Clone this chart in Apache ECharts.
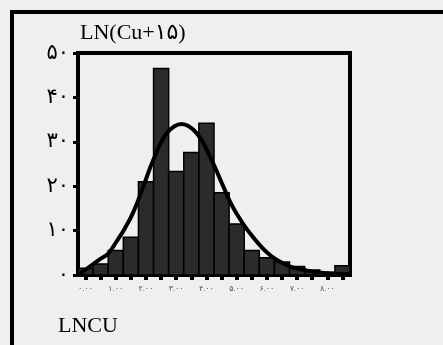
<!DOCTYPE html>
<html>
<head>
<meta charset="utf-8">
<script src="https://cdn.jsdelivr.net/npm/echarts@6/dist/echarts.min.js"></script>
<style>
  html, body { margin: 0; padding: 0; background: #efefef; }
  #chart { width: 443px; height: 345px; }
</style>
</head>
<body>
<div id="chart"></div>
<script>
// bin centres (LNCU) and counts
var binCenters = [0, 0.5, 1, 1.5, 2, 2.5, 3, 3.5, 4, 4.5, 5, 5.5, 6, 6.5, 7, 7.5, 8, 8.5];
var counts = [1.5, 2.5, 5.5, 8.5, 21, 46.5, 23.3, 27.6, 34.2, 18.5, 11.5, 5.5, 3.9, 2.9, 1.9, 1.1, 0.6, 2.1];

// normal curve
var curveX = [-0.2, -0.02, 0.48, 0.75, 1.03, 1.3, 1.57, 1.91, 2.24, 2.69, 3.18, 3.68, 4.12, 4.56, 4.78, 5.0, 5.44, 6.1, 6.77, 7.32, 7.65, 8.2, 8.72];
var curveY = [0.2, 1.1, 3.6, 4.8, 7.6, 10.5, 14, 19.9, 25.9, 31.9, 34, 31.9, 26.6, 19.9, 16.5, 13.8, 9.4, 4.5, 1.9, 1.0, 0.6, 0.3, 0.2];

var xLabelValues = [0, 1, 2, 3, 4, 5, 6, 7, 8];
var xLabels = ['۰.۰۰', '۱.۰۰', '۲.۰۰', '۳.۰۰', '۴.۰۰', '۵.۰۰', '۶.۰۰', '۷.۰۰', '۸.۰۰'];
var yLabels = ['۰', '۱۰', '۲۰', '۳۰', '۴۰', '۵۰'];

var binWidth = 0.5;
var serif = '"Liberation Serif", "DejaVu Sans", serif';

var chart = echarts.init(document.getElementById('chart'));

var barData = binCenters.map(function (c, i) { return [c, counts[i]]; });
var curveData = curveX.map(function (x, i) { return [x, curveY[i]]; });

var option = {
  backgroundColor: '#efefef',
  animation: false,
  graphic: [{
    type: 'rect',
    shape: { x: 12, y: 12, width: 470, height: 380 },
    style: { fill: 'none', stroke: '#000', lineWidth: 4 },
    silent: true
  }, {
    type: 'text',
    left: 80, top: 22,
    style: { text: 'LN(Cu+۱۵)', font: '22px ' + serif, fill: '#000' }
  }, {
    type: 'text',
    left: 58, top: 315,
    style: { text: 'LNCU', font: '22px ' + serif, fill: '#000' }
  }],
  grid: {
    left: 78, top: 53, right: 93, bottom: 70,
    show: true,
    borderColor: '#000',
    borderWidth: 4,
    backgroundColor: 'transparent'
  },
  xAxis: {
    type: 'value',
    min: -0.25,
    max: 8.75,
    splitLine: { show: false },
    axisLine: { lineStyle: { color: '#000', width: 4 } },
    axisTick: {
      show: true,
      customValues: binCenters,
      length: 5,
      lineStyle: { color: '#000', width: 4 }
    },
    axisLabel: {
      customValues: xLabelValues,
      margin: 10,
      fontSize: 8,
      color: '#555',
      fontFamily: serif,
      formatter: function (v) {
        var i = xLabelValues.indexOf(Math.round(v));
        return i >= 0 ? xLabels[i] : '';
      }
    }
  },
  yAxis: {
    type: 'value',
    min: 0,
    max: 50,
    interval: 10,
    splitLine: { show: false },
    axisLine: { show: true, onZero: false, lineStyle: { color: '#000', width: 4 } },
    axisTick: { show: true, length: 5, lineStyle: { color: '#000', width: 3 } },
    axisLabel: {
      margin: 9,
      fontSize: 21,
      color: '#000',
      fontFamily: serif,
      formatter: function (v) { return yLabels[Math.round(v / 10)]; }
    }
  },
  series: [{
    type: 'custom',
    data: barData,
    z: 2,
    renderItem: function (params, api) {
      var c = api.value(0);
      var h = api.value(1);
      var p0 = api.coord([c - binWidth / 2, h]);
      var p1 = api.coord([c + binWidth / 2, 0]);
      return {
        type: 'rect',
        shape: { x: p0[0], y: p0[1], width: p1[0] - p0[0], height: p1[1] - p0[1] },
        style: { fill: '#2b2b2b', stroke: '#000', lineWidth: 1.5 }
      };
    }
  }, {
    type: 'line',
    data: curveData,
    smooth: 0.4,
    showSymbol: false,
    z: 3,
    lineStyle: { color: '#000', width: 4 }
  }]
};

chart.setOption(option);
</script>
</body>
</html>
